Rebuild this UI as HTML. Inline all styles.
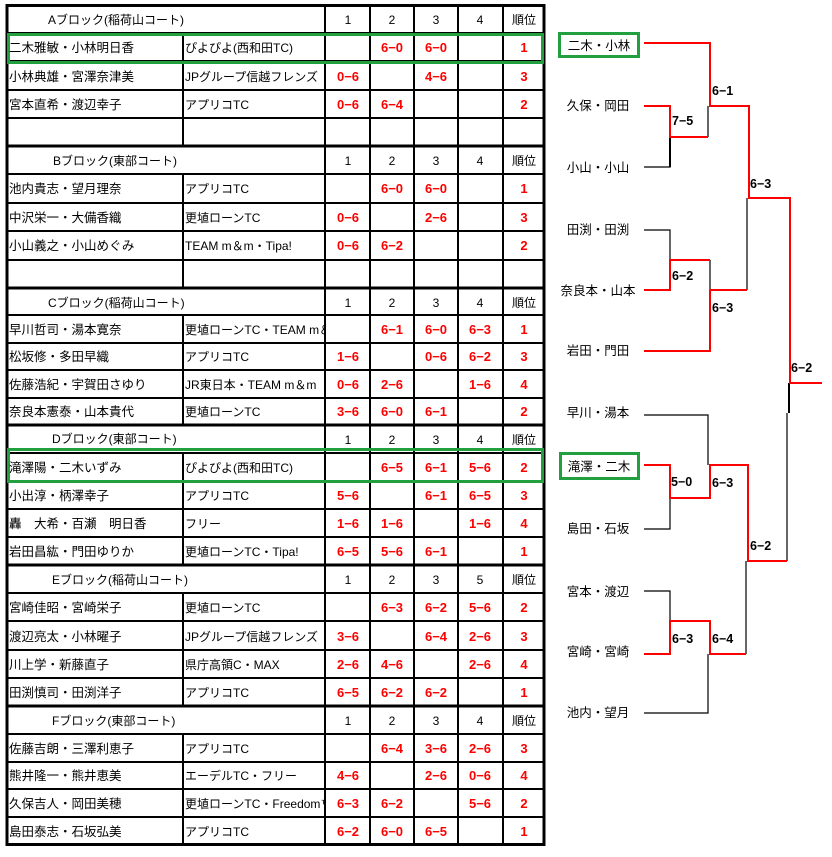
<!DOCTYPE html>
<html><head><meta charset="utf-8"><style>
html,body{margin:0;padding:0;background:#fff;}
svg{display:block;font-family:"Liberation Sans","Noto Sans CJK JP",sans-serif;}
.n{font-size:12.5px;fill:#000;}
.h{font-size:12px;fill:#000;}
.c{font-size:12px;fill:#000;text-anchor:middle;}
.s{font-size:13px;font-weight:bold;fill:#f00;text-anchor:middle;font-family:"Liberation Sans",sans-serif;}
.b{font-size:12.5px;fill:#000;text-anchor:middle;}
.l{font-size:12.5px;font-weight:bold;fill:#000;font-family:"Liberation Sans",sans-serif;}
</style></head><body>
<svg width="832" height="857" viewBox="0 0 832 857" xmlns="http://www.w3.org/2000/svg">
<defs><clipPath id="tc"><rect x="183" y="0" width="141" height="857"/></clipPath></defs>
<g stroke="#000" stroke-width="2" fill="none">
<!-- block A -->
<line x1="7" y1="33" x2="544" y2="33"/><line x1="7" y1="61" x2="544" y2="61"/><line x1="7" y1="90" x2="544" y2="90"/><line x1="7" y1="118" x2="544" y2="118"/>
<line x1="7" y1="174" x2="544" y2="174"/><line x1="7" y1="203" x2="544" y2="203"/><line x1="7" y1="231" x2="544" y2="231"/><line x1="7" y1="260" x2="544" y2="260"/>
<line x1="7" y1="315" x2="544" y2="315"/><line x1="7" y1="343" x2="544" y2="343"/><line x1="7" y1="370" x2="544" y2="370"/><line x1="7" y1="398" x2="544" y2="398"/>
<line x1="7" y1="453" x2="544" y2="453"/><line x1="7" y1="481" x2="544" y2="481"/><line x1="7" y1="509" x2="544" y2="509"/><line x1="7" y1="537" x2="544" y2="537"/>
<line x1="7" y1="593" x2="544" y2="593"/><line x1="7" y1="621" x2="544" y2="621"/><line x1="7" y1="650" x2="544" y2="650"/><line x1="7" y1="678" x2="544" y2="678"/>
<line x1="7" y1="734" x2="544" y2="734"/><line x1="7" y1="762" x2="544" y2="762"/><line x1="7" y1="789" x2="544" y2="789"/><line x1="7" y1="817" x2="544" y2="817"/>
<line x1="325" y1="5" x2="325" y2="845"/><line x1="370" y1="5" x2="370" y2="845"/><line x1="414" y1="5" x2="414" y2="845"/><line x1="458" y1="5" x2="458" y2="845"/><line x1="503" y1="5" x2="503" y2="845"/>
<line x1="183" y1="33" x2="183" y2="146"/><line x1="183" y1="174" x2="183" y2="288"/><line x1="183" y1="315" x2="183" y2="425"/><line x1="183" y1="453" x2="183" y2="565"/><line x1="183" y1="593" x2="183" y2="706"/><line x1="183" y1="734" x2="183" y2="845"/>
</g>
<g stroke="#000" stroke-width="3" fill="none">
<line x1="7" y1="146" x2="544" y2="146"/><line x1="7" y1="288" x2="544" y2="288"/><line x1="7" y1="425" x2="544" y2="425"/><line x1="7" y1="565" x2="544" y2="565"/><line x1="7" y1="706" x2="544" y2="706"/>
<rect x="7" y="5.5" width="537" height="839"/>
</g>
<g stroke="#22a040" stroke-width="3" fill="none">
<rect x="8.5" y="34.5" width="534" height="28"/>
<rect x="8.5" y="449.5" width="534" height="32"/>
</g>
<!-- headers -->
<text class="h" x="48" y="24">Aブロック(稲荷山コート)</text>
<text class="h" x="53" y="165">Bブロック(東部コート)</text>
<text class="h" x="48" y="307">Cブロック(稲荷山コート)</text>
<text class="h" x="52" y="443">Dブロック(東部コート)</text>
<text class="h" x="52" y="584">Eブロック(稲荷山コート)</text>
<text class="h" x="52" y="725">Fブロック(東部コート)</text>
<g class="c">
<text x="348" y="24">1</text><text x="392" y="24">2</text><text x="436" y="24">3</text><text x="480" y="24">4</text><text x="524" y="24">順位</text>
<text x="348" y="165">1</text><text x="392" y="165">2</text><text x="436" y="165">3</text><text x="480" y="165">4</text><text x="524" y="165">順位</text>
<text x="348" y="307">1</text><text x="392" y="307">2</text><text x="436" y="307">3</text><text x="480" y="307">4</text><text x="524" y="307">順位</text>
<text x="348" y="444">1</text><text x="392" y="444">2</text><text x="436" y="444">3</text><text x="480" y="444">4</text><text x="524" y="444">順位</text>
<text x="348" y="584">1</text><text x="392" y="584">2</text><text x="436" y="584">3</text><text x="480" y="584">5</text><text x="524" y="584">順位</text>
<text x="348" y="725">1</text><text x="392" y="725">2</text><text x="436" y="725">3</text><text x="480" y="725">4</text><text x="524" y="725">順位</text>
</g>
<!-- names -->
<g class="n">
<text x="9" y="52">二木雅敏・小林明日香</text><text x="9" y="81">小林典雄・宮澤奈津美</text><text x="9" y="109">宮本直希・渡辺幸子</text>
<text x="9" y="193">池内貴志・望月理奈</text><text x="9" y="222">中沢栄一・大備香織</text><text x="9" y="250">小山義之・小山めぐみ</text>
<text x="9" y="334">早川哲司・湯本寛奈</text><text x="9" y="361">松坂修・多田早織</text><text x="9" y="389">佐藤浩紀・宇賀田さゆり</text><text x="9" y="416">奈良本憲泰・山本貴代</text>
<text x="9" y="472">滝澤陽・二木いずみ</text><text x="9" y="500">小出淳・柄澤幸子</text><text x="9" y="528">轟　大希・百瀬　明日香</text><text x="9" y="556">岩田昌紘・門田ゆりか</text>
<text x="9" y="612">宮崎佳昭・宮崎栄子</text><text x="9" y="641">渡辺亮太・小林曜子</text><text x="9" y="669">川上学・新藤直子</text><text x="9" y="697">田渕慎司・田渕洋子</text>
<text x="9" y="753">佐藤吉朗・三澤利恵子</text><text x="9" y="780">熊井隆一・熊井恵美</text><text x="9" y="808">久保吉人・岡田美穂</text><text x="9" y="836">島田泰志・石坂弘美</text>
</g>
<g class="n" clip-path="url(#tc)" style="font-size:12px">
<text x="185" y="52">ぴよぴよ(西和田TC)</text><text x="185" y="81">JPグループ信越フレンズ</text><text x="185" y="109">アプリコTC</text>
<text x="185" y="193">アプリコTC</text><text x="185" y="222">更埴ローンTC</text><text x="185" y="250">TEAM m＆m・Tipa!</text>
<text x="185" y="334">更埴ローンTC・TEAM m＆m</text><text x="185" y="361">アプリコTC</text><text x="185" y="389">JR東日本・TEAM m＆m</text><text x="185" y="416">更埴ローンTC</text>
<text x="185" y="472">ぴよぴよ(西和田TC)</text><text x="185" y="500">アプリコTC</text><text x="185" y="528">フリー</text><text x="185" y="556">更埴ローンTC・Tipa!</text>
<text x="185" y="612">更埴ローンTC</text><text x="185" y="641">JPグループ信越フレンズ</text><text x="185" y="669">県庁高領C・MAX</text><text x="185" y="697">アプリコTC</text>
<text x="185" y="753">アプリコTC</text><text x="185" y="780">エーデルTC・フリー</text><text x="185" y="808">更埴ローンTC・Freedom™</text><text x="185" y="836">アプリコTC</text>
</g>
<g class="s">
<text x="392" y="52">6−0</text><text x="436" y="52">6−0</text><text x="524" y="52">1</text>
<text x="348" y="81">0−6</text><text x="436" y="81">4−6</text><text x="524" y="81">3</text>
<text x="348" y="109">0−6</text><text x="392" y="109">6−4</text><text x="524" y="109">2</text>
<text x="392" y="193">6−0</text><text x="436" y="193">6−0</text><text x="524" y="193">1</text>
<text x="348" y="222">0−6</text><text x="436" y="222">2−6</text><text x="524" y="222">3</text>
<text x="348" y="250">0−6</text><text x="392" y="250">6−2</text><text x="524" y="250">2</text>
<text x="392" y="334">6−1</text><text x="436" y="334">6−0</text><text x="480" y="334">6−3</text><text x="524" y="334">1</text>
<text x="348" y="361">1−6</text><text x="436" y="361">0−6</text><text x="480" y="361">6−2</text><text x="524" y="361">3</text>
<text x="348" y="389">0−6</text><text x="392" y="389">2−6</text><text x="480" y="389">1−6</text><text x="524" y="389">4</text>
<text x="348" y="416">3−6</text><text x="392" y="416">6−0</text><text x="436" y="416">6−1</text><text x="524" y="416">2</text>
<text x="392" y="472">6−5</text><text x="436" y="472">6−1</text><text x="480" y="472">5−6</text><text x="524" y="472">2</text>
<text x="348" y="500">5−6</text><text x="436" y="500">6−1</text><text x="480" y="500">6−5</text><text x="524" y="500">3</text>
<text x="348" y="528">1−6</text><text x="392" y="528">1−6</text><text x="480" y="528">1−6</text><text x="524" y="528">4</text>
<text x="348" y="556">6−5</text><text x="392" y="556">5−6</text><text x="436" y="556">6−1</text><text x="524" y="556">1</text>
<text x="392" y="612">6−3</text><text x="436" y="612">6−2</text><text x="480" y="612">5−6</text><text x="524" y="612">2</text>
<text x="348" y="641">3−6</text><text x="436" y="641">6−4</text><text x="480" y="641">2−6</text><text x="524" y="641">3</text>
<text x="348" y="669">2−6</text><text x="392" y="669">4−6</text><text x="480" y="669">2−6</text><text x="524" y="669">4</text>
<text x="348" y="697">6−5</text><text x="392" y="697">6−2</text><text x="436" y="697">6−2</text><text x="524" y="697">1</text>
<text x="392" y="753">6−4</text><text x="436" y="753">3−6</text><text x="480" y="753">2−6</text><text x="524" y="753">3</text>
<text x="348" y="780">4−6</text><text x="436" y="780">2−6</text><text x="480" y="780">0−6</text><text x="524" y="780">4</text>
<text x="348" y="808">6−3</text><text x="392" y="808">6−2</text><text x="480" y="808">5−6</text><text x="524" y="808">2</text>
<text x="348" y="836">6−2</text><text x="392" y="836">6−0</text><text x="436" y="836">6−5</text><text x="524" y="836">1</text>
</g>
<!-- bracket -->
<g stroke="#22a040" stroke-width="3" fill="none">
<rect x="559.5" y="33.5" width="79" height="23"/>
<rect x="560.5" y="453.5" width="78" height="25"/>
</g>
<g class="b">
<text x="599" y="50">二木・小林</text>
<text x="598" y="110">久保・岡田</text>
<text x="598" y="172">小山・小山</text>
<text x="598" y="234">田渕・田渕</text>
<text x="598" y="295">奈良本・山本</text>
<text x="598" y="355">岩田・門田</text>
<text x="598" y="417">早川・湯本</text>
<text x="599" y="471">滝澤・二木</text>
<text x="598" y="533">島田・石坂</text>
<text x="598" y="596">宮本・渡辺</text>
<text x="598" y="656">宮崎・宮崎</text>
<text x="598" y="717">池内・望月</text>
</g>
<g stroke="#000" stroke-width="1.2" fill="none">
<polyline points="708,106 708,137"/>
<polyline points="644,167 670,167 670,137"/>
<polyline points="644,230 670,230 670,260"/>
<polyline points="710,260 710,290"/>
<polyline points="747,198 747,290"/>
<polyline points="789,383 789,413"/>
<polyline points="644,415 708,415 708,465"/>
<polyline points="787,413 787,561"/>
<polyline points="644,529 670,529 670,498"/>
<polyline points="644,591 670,591 670,621"/>
<polyline points="746,561 746,654"/>
<polyline points="644,713 708,713 708,654"/>
</g>
<g stroke="#000" stroke-width="2" fill="none"><line x1="670" y1="137" x2="670" y2="167"/><line x1="789" y1="383" x2="789" y2="413"/></g>
<g stroke="#f00" stroke-width="2" fill="none">
<polyline points="644,43 710,43 710,106 749,106 749,198 790,198 790,383 822,383"/>
<polyline points="644,106 670,106 670,137 708,137"/>
<polyline points="644,290 670,290 670,260 710,260"/>
<polyline points="710,290 747,290"/>
<polyline points="644,351 710,351 710,290"/>
<polyline points="644,465 670,465 670,498 710,498 710,465 748,465 748,561 787,561"/>
<polyline points="644,654 670,654 670,621 710,621 710,654 746,654"/>
</g>
<g class="l">
<text x="712" y="95">6−1</text>
<text x="672" y="125">7−5</text>
<text x="750" y="188">6−3</text>
<text x="672" y="280">6−2</text>
<text x="712" y="312">6−3</text>
<text x="791" y="372">6−2</text>
<text x="671" y="486">5−0</text>
<text x="712" y="487">6−3</text>
<text x="750" y="550">6−2</text>
<text x="672" y="643">6−3</text>
<text x="712" y="643">6−4</text>
</g>
</svg>
</body></html>
